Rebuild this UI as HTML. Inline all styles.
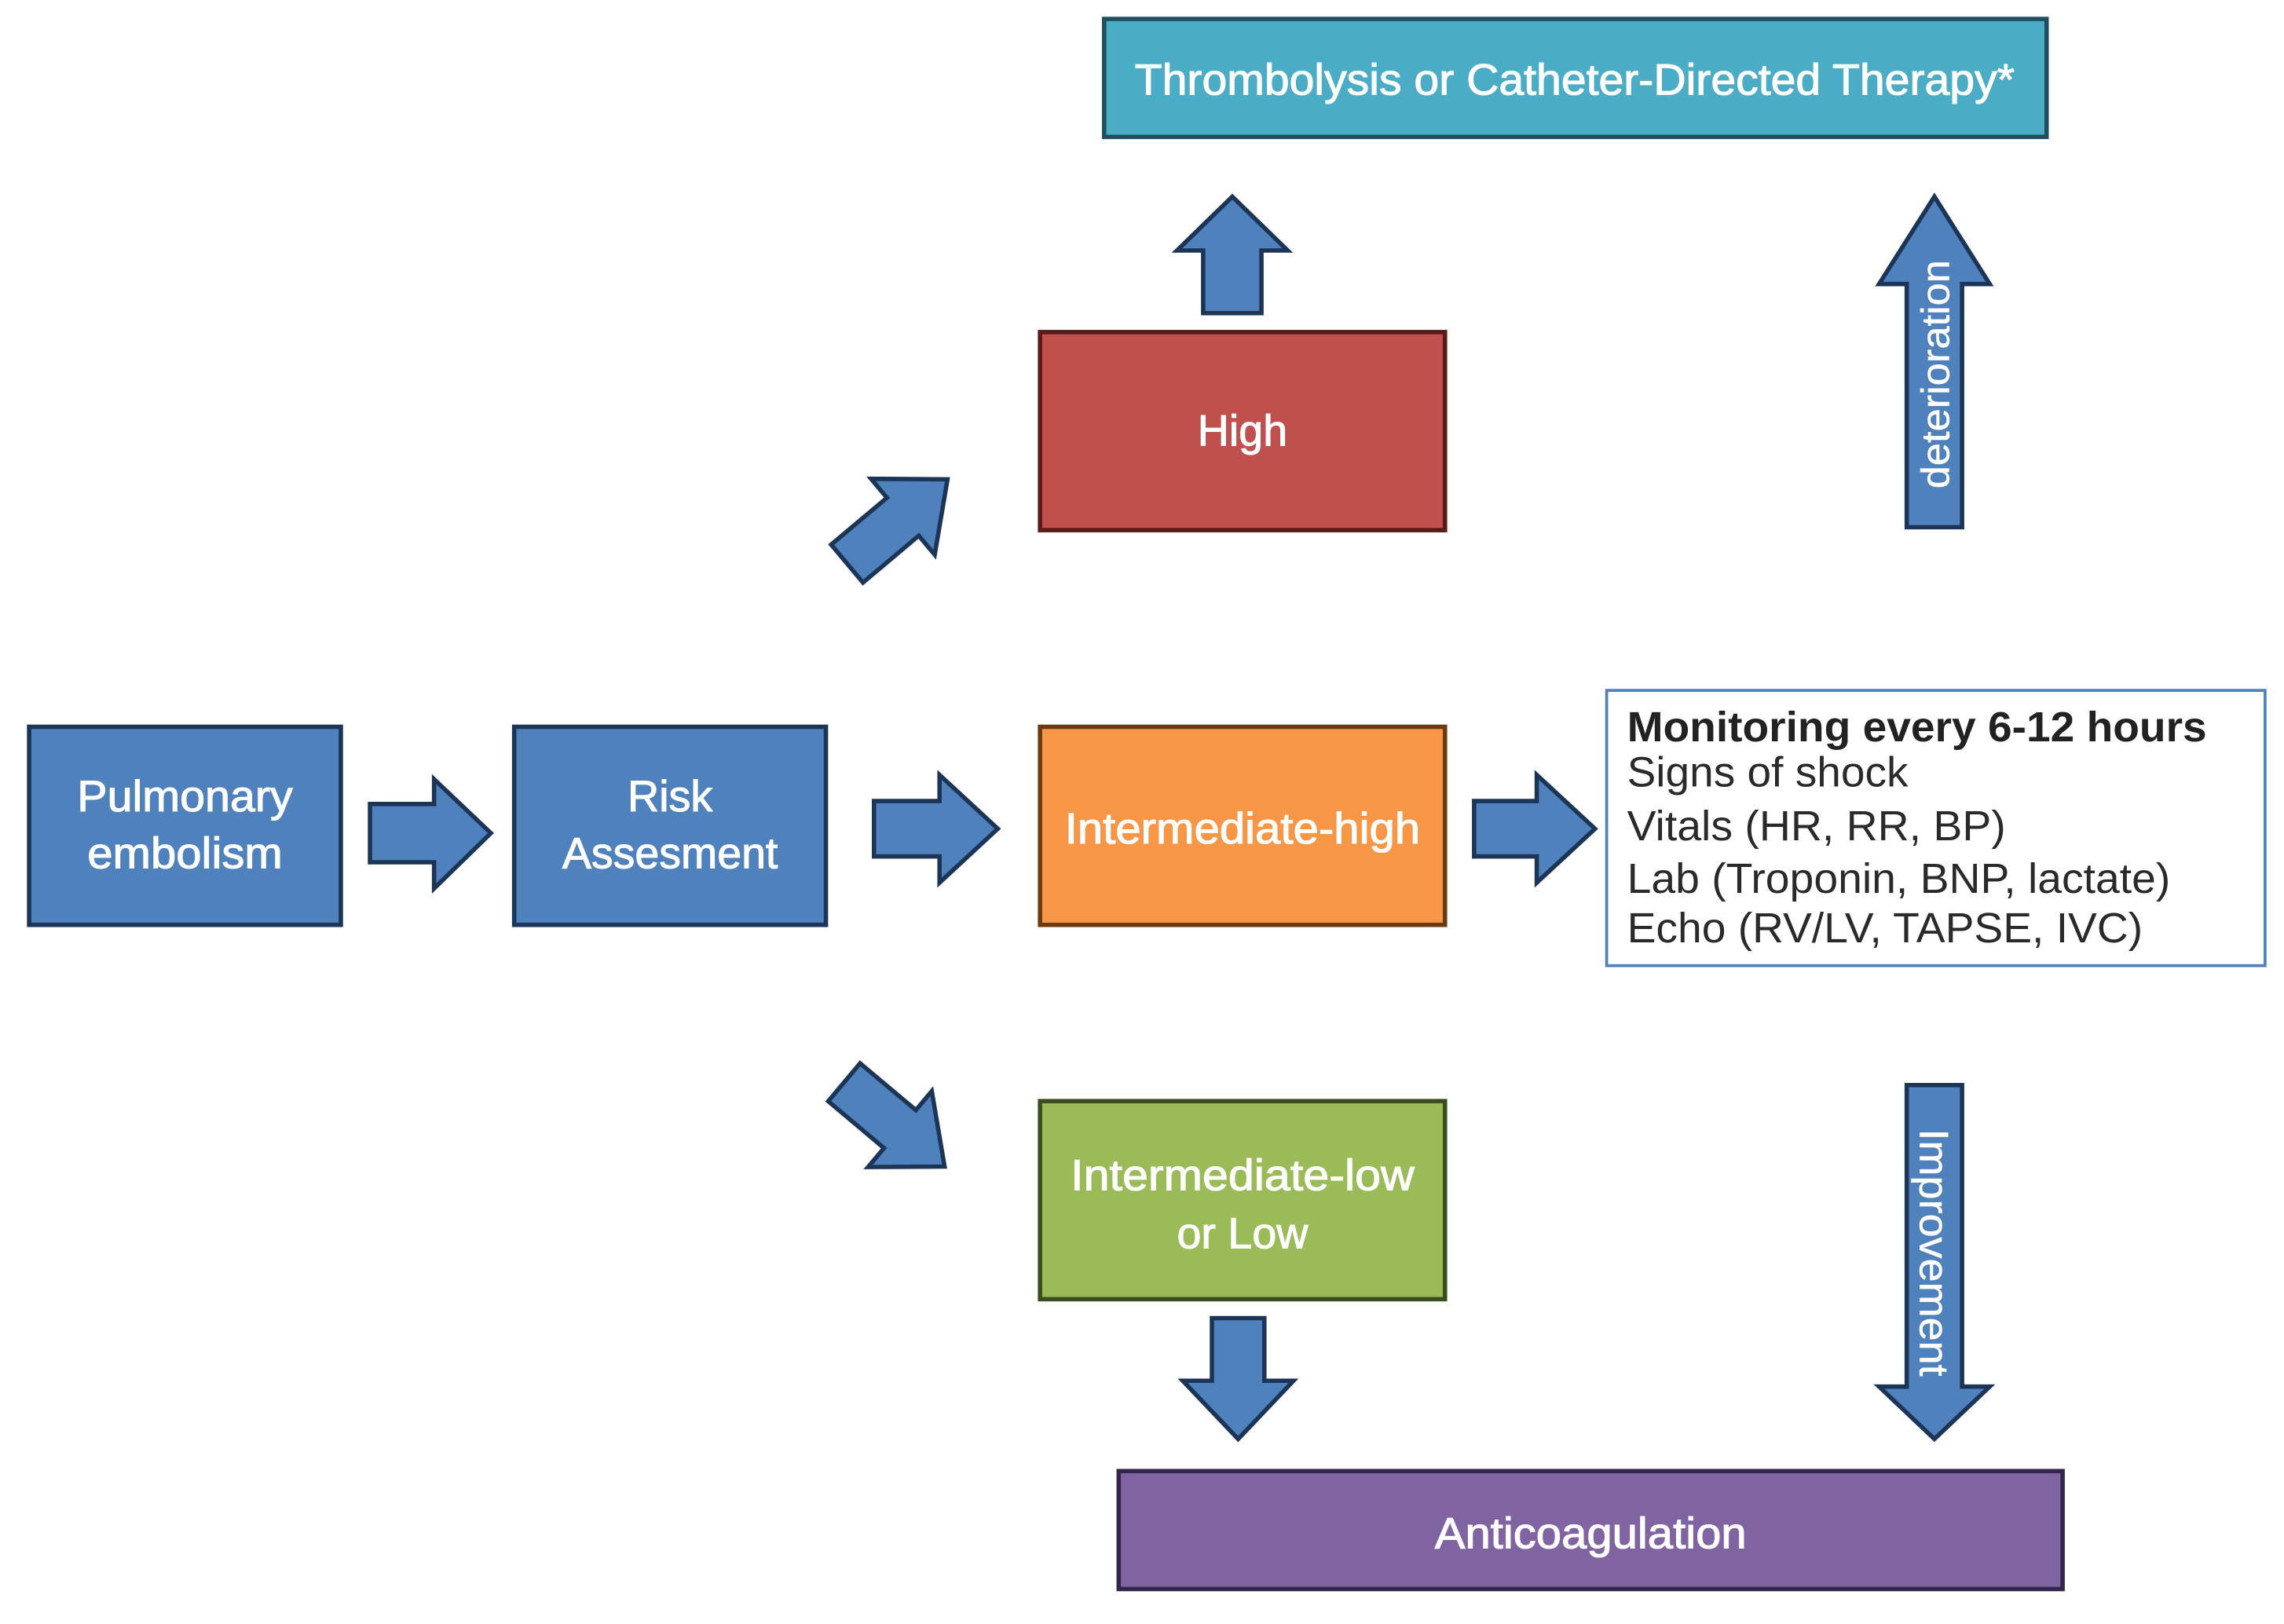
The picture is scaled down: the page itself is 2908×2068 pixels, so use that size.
<!DOCTYPE html>
<html><head><meta charset="utf-8"><style>
html,body{margin:0;padding:0;background:#fff;width:2908px;height:2068px;overflow:hidden}
svg{display:block}
text{font-family:"Liberation Sans",sans-serif}
</style></head><body>
<svg width="2908" height="2068" viewBox="0 0 1568 1115" preserveAspectRatio="none" xmlns="http://www.w3.org/2000/svg">
<g stroke-width="3">
<rect x="758" y="13" width="647" height="81" fill="#4bacc6" stroke="#1f4e5f"/>
<rect x="714" y="228" width="278" height="136" fill="#c0504d" stroke="#5a1a18"/>
<rect x="20" y="499" width="214" height="136" fill="#4f81bd" stroke="#1c3557"/>
<rect x="353" y="499" width="214" height="136" fill="#4f81bd" stroke="#1c3557"/>
<rect x="714" y="499" width="278" height="136" fill="#f79646" stroke="#6b3a10"/>
<rect x="714" y="756" width="278" height="136" fill="#9bbb59" stroke="#3b4d1e"/>
<rect x="768" y="1010" width="648" height="81" fill="#8064a2" stroke="#33264a"/>
<rect x="1103" y="474" width="452" height="189" fill="#fff" stroke="#4f81bd" stroke-width="2"/>
</g>
<g fill="#4f81bd" stroke="#1c3557" stroke-width="3" stroke-linejoin="miter">
<polygon points="254,552 298,552 298,535 337,572 298,610 298,592 254,592"/>
<polygon points="600,550 645,550 645,532 685,569 645,606 645,588 600,588"/>
<polygon points="1012,550 1055,550 1055,532 1095,569 1055,606 1055,588 1012,588"/>
<polygon points="826,215 826,172 808,172 846,135 884,172 866,172 866,215"/>
<polygon points="832,905 868,905 868,948 888,948 850,988 812,948 832,948"/>
<polygon points="1309,362 1309,195 1290,195 1328,135 1366,195 1347,195 1347,362"/>
<polygon points="1309,745 1347,745 1347,952 1366,952 1328,988 1290,952 1309,952"/>
<polygon transform="translate(616,358) rotate(-40)" points="-45,-17 5,-17 5,-34 45,0 5,34 5,17 -45,17"/>
<polygon transform="translate(614,772) rotate(40)" points="-45,-17 5,-17 5,-34 45,0 5,34 5,17 -45,17"/>
</g>
<g fill="#fff" stroke="#fff" stroke-width="0.6" font-size="30" text-anchor="middle">
<text x="1081" y="65" textLength="604" lengthAdjust="spacingAndGlyphs">Thrombolysis or Catheter-Directed Therapy*</text>
<text x="853" y="306">High</text>
<text x="127" y="557" textLength="148" lengthAdjust="spacingAndGlyphs">Pulmonary</text>
<text x="127" y="596" textLength="134" lengthAdjust="spacingAndGlyphs">embolism</text>
<text x="460" y="557">Risk</text>
<text x="460" y="596" textLength="148" lengthAdjust="spacingAndGlyphs">Assesment</text>
<text x="853" y="579" textLength="244" lengthAdjust="spacingAndGlyphs">Intermediate-high</text>
<text x="853" y="817" textLength="236" lengthAdjust="spacingAndGlyphs">Intermediate-low</text>
<text x="853" y="857">or Low</text>
<text x="1092" y="1063" textLength="214" lengthAdjust="spacingAndGlyphs">Anticoagulation</text>
<text transform="translate(1338,257) rotate(-90)" font-size="27" stroke-width="0.3" textLength="157" lengthAdjust="spacingAndGlyphs">deterioration</text>
<text transform="translate(1318,860) rotate(90)" font-size="28" stroke-width="0.3" textLength="170" lengthAdjust="spacingAndGlyphs">Improvement</text>
</g>
<g fill="#2a2a2a" font-size="29">
<text x="1117" y="509" font-weight="bold" fill="#222" textLength="398" lengthAdjust="spacingAndGlyphs">Monitoring every 6-12 hours</text>
<text x="1117" y="540" textLength="193" lengthAdjust="spacingAndGlyphs">Signs of shock</text>
<text x="1117" y="577" textLength="260" lengthAdjust="spacingAndGlyphs">Vitals (HR, RR, BP)</text>
<text x="1117" y="613" textLength="373" lengthAdjust="spacingAndGlyphs">Lab (Troponin, BNP, lactate)</text>
<text x="1117" y="647" textLength="354" lengthAdjust="spacingAndGlyphs">Echo (RV/LV, TAPSE, IVC)</text>
</g>
</svg>
</body></html>
